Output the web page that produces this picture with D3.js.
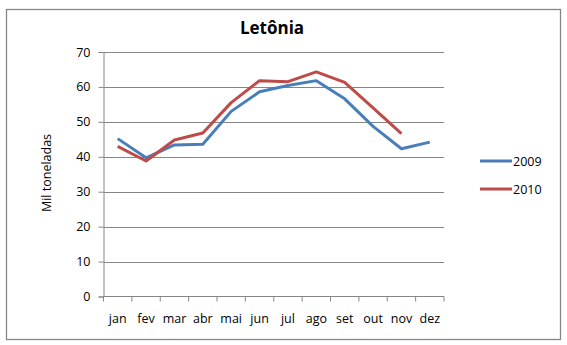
<!DOCTYPE html>
<html>
<head>
<meta charset="utf-8">
<script src="https://cdn.jsdelivr.net/npm/d3@7"></script>
<style>
  html, body { margin: 0; padding: 0; background: #fff; }
  svg { display: block; }
  text { font-family: "Open Sans", "Liberation Sans", sans-serif; fill: #000; }
</style>
</head>
<body>
<script>
// Monthly volumes, Latvia (thousand tonnes)
const months = ["jan", "fev", "mar", "abr", "mai", "jun", "jul", "ago", "set", "out", "nov", "dez"];
const values2009 = [45.2, 39.7, 43.4, 43.6, 53.0, 58.6, 60.4, 61.8, 56.6, 48.7, 42.3, 44.2];
const values2010 = [43.0, 38.8, 44.8, 46.8, 55.5, 61.8, 61.5, 64.3, 61.3, 54.0, 46.6];
const yTicks = [0, 10, 20, 30, 40, 50, 60, 70];
const seriesNames = ["2009", "2010"];
const seriesColors = ["#4a7ebb", "#be4b48"];

const W = 567, H = 345;
const svg = d3.select("body").append("svg").attr("width", W).attr("height", H);

// outer chart frame
svg.append("rect")
  .attr("x", 6.5).attr("y", 9.5).attr("width", 554).attr("height", 330)
  .attr("fill", "#fff").attr("stroke", "#878787").attr("stroke-width", 1.3);

const plot = { left: 103.5, right: 444, top: 52, bottom: 296.5 };

const x = d3.scaleBand().domain(months).range([plot.left, plot.right]);
const y = d3.scaleLinear().domain([0, 70]).range([plot.bottom, plot.top]);

// horizontal gridlines
svg.append("g").selectAll("line").data(yTicks.filter(d => d > 0)).join("line")
  .attr("x1", plot.left).attr("x2", plot.right)
  .attr("y1", d => Math.round(y(d)) + 0.5).attr("y2", d => Math.round(y(d)) + 0.5)
  .attr("stroke", "#868686").attr("stroke-width", 1);

// y axis
const yAxis = svg.append("g")
  .attr("transform", `translate(${plot.left},0)`)
  .call(d3.axisLeft(y).tickValues(yTicks).tickSize(5).tickPadding(8).tickFormat(d3.format("d")));
yAxis.select(".domain").attr("stroke", "#868686");
yAxis.selectAll(".tick line").attr("stroke", "#868686");
yAxis.selectAll(".tick text").attr("font-size", 12.5).attr("font-family", "'Open Sans', 'Liberation Sans', sans-serif");

// x axis with ticks at category boundaries
const xAxis = svg.append("g")
  .attr("transform", `translate(0,${plot.bottom})`)
  .call(d3.axisBottom(x).tickSize(0).tickPadding(18));
xAxis.select(".domain").attr("stroke", "#868686").attr("d", `M${plot.left},0H${plot.right}`);
xAxis.selectAll(".tick text").attr("font-size", 12.5).attr("font-family", "'Open Sans', 'Liberation Sans', sans-serif");
xAxis.append("g").selectAll("line").data(months.concat(["end"])).join("line")
  .attr("x1", (d, i) => plot.left + i * x.step()).attr("x2", (d, i) => plot.left + i * x.step())
  .attr("y1", 0).attr("y2", 5).attr("stroke", "#868686");

// y axis title
svg.append("text")
  .attr("transform", `translate(51,173) rotate(-90)`)
  .attr("text-anchor", "middle")
  .attr("font-size", 12.5)
  .text("Mil toneladas");

// chart title
svg.append("text")
  .attr("x", 272).attr("y", 34)
  .attr("text-anchor", "middle")
  .attr("font-size", 17).attr("font-weight", "bold")
  .text("Letônia");

// series lines
const line = d3.line()
  .x((d, i) => x(months[i]) + x.bandwidth() / 2)
  .y(d => y(d));

[values2009, values2010].forEach((vals, k) => {
  svg.append("path")
    .datum(vals)
    .attr("d", line)
    .attr("fill", "none")
    .attr("stroke", seriesColors[k])
    .attr("stroke-width", 3)
    .attr("stroke-linejoin", "round");
});

// legend
const legend = svg.append("g");
seriesNames.forEach((name, k) => {
  const ly = 161 + k * 28;
  legend.append("line")
    .attr("x1", 480).attr("x2", 512).attr("y1", ly).attr("y2", ly)
    .attr("stroke", seriesColors[k]).attr("stroke-width", 3);
  legend.append("text")
    .attr("x", 513).attr("y", ly + 4.5)
    .attr("font-size", 12.5)
    .text(name);
});
</script>
</body>
</html>
